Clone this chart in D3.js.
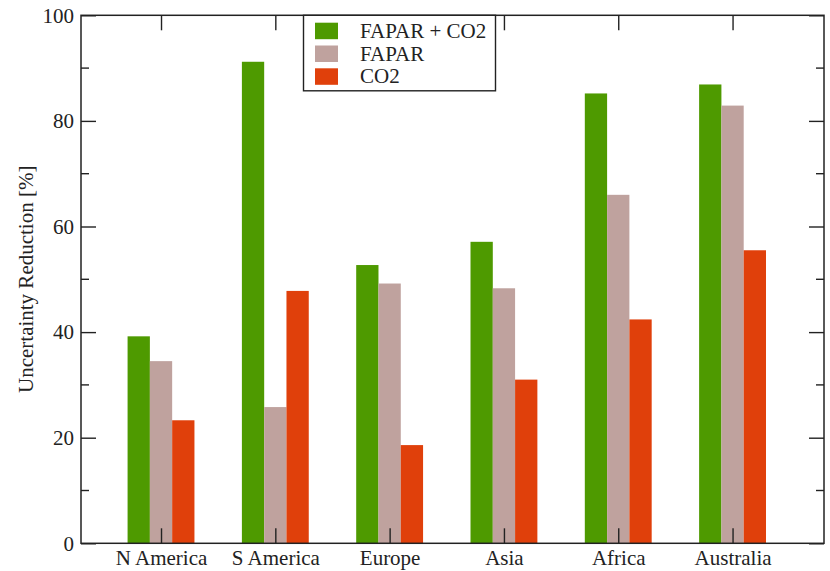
<!DOCTYPE html>
<html>
<head>
<meta charset="utf-8">
<script src="https://cdn.jsdelivr.net/npm/d3@7"></script>
<style>
  html, body { margin: 0; padding: 0; background: #fff; }
  svg { display: block; }
  svg text { font-family: "Liberation Serif", "DejaVu Serif", "Times New Roman", serif; fill: #222; }
</style>
</head>
<body>
<svg id="chart" width="830" height="571"></svg>
<script>
const categories = ["N America", "S America", "Europe", "Asia", "Africa", "Australia"];
const seriesNames = ["FAPAR + CO2", "FAPAR", "CO2"];
const seriesColors = ["#4e9a00", "#bfa29e", "#e0400b"];
const faparCo2 = [39.2, 91.2, 52.7, 57.1, 85.2, 86.9];
const fapar = [34.5, 25.8, 49.2, 48.3, 66.0, 82.9];
const co2 = [23.3, 47.8, 18.6, 31.0, 42.4, 55.5];
const yTicks = [0, 20, 40, 60, 80, 100];
const yMinorTicks = [10, 30, 50, 70, 90];
const yTitle = "Uncertainty Reduction [%]";

const series = [faparCo2, fapar, co2];
const FONT = '"Liberation Serif", "DejaVu Serif", "Times New Roman", serif';
const FS = 21;

const svg = d3.select("#chart");
const mLeft = 81, mRight = 824, mTop = 15.3, mBottom = 543.3;

const x = d3.scaleLinear().domain([0.3, 6.8]).range([mLeft, mRight]);
const y = d3.scaleLinear().domain([0, 100]).range([mBottom, mTop]);
const barW = 0.195;
const offsets = [-barW, 0, barW];

// bars
series.forEach((vals, si) => {
  svg.append("g").selectAll("rect")
    .data(vals)
    .join("rect")
    .attr("x", (d, i) => x(i + 1 + offsets[si] - barW / 2))
    .attr("width", (d, i) => x(i + 1 + offsets[si] + barW / 2) - x(i + 1 + offsets[si] - barW / 2))
    .attr("y", d => y(d))
    .attr("height", d => y(0) - y(d))
    .attr("fill", seriesColors[si]);
});

const axisColor = "#222";
const catPos = categories.map((c, i) => i + 1);

// left axis
const leftAxis = d3.axisLeft(y).tickValues(yTicks).tickSize(-15).tickPadding(7).tickFormat(d3.format("d"));
const gl = svg.append("g").attr("transform", `translate(${mLeft},0)`).call(leftAxis);
gl.append("g").selectAll("line").data(yMinorTicks).join("line")
  .attr("x1", 0).attr("x2", 8).attr("y1", d => y(d)).attr("y2", d => y(d));

// right axis
const rightAxis = d3.axisRight(y).tickValues(yTicks).tickSize(-15).tickFormat("");
const gr = svg.append("g").attr("transform", `translate(${mRight},0)`).call(rightAxis);
gr.append("g").selectAll("line").data(yMinorTicks).join("line")
  .attr("x1", 0).attr("x2", -8).attr("y1", d => y(d)).attr("y2", d => y(d));

// bottom axis
const bottomAxis = d3.axisBottom(x).tickValues(catPos).tickSize(-15).tickPadding(7)
  .tickFormat(d => categories[d - 1]);
const gb = svg.append("g").attr("transform", `translate(0,${mBottom})`).call(bottomAxis);

// top axis
const topAxis = d3.axisTop(x).tickValues(catPos).tickSize(-15).tickFormat("");
const gt = svg.append("g").attr("transform", `translate(0,${mTop})`).call(topAxis);

[gl, gr, gb, gt].forEach(g => {
  g.attr("font-family", FONT).attr("font-size", FS);
  g.select(".domain").remove();
  g.selectAll("line").attr("stroke", axisColor).attr("stroke-width", 1.4);
  g.selectAll("text").style("font-family", FONT).attr("font-size", FS).attr("fill", "#222");
});

// frame
svg.append("rect")
  .attr("x", mLeft).attr("y", mTop)
  .attr("width", mRight - mLeft).attr("height", mBottom - mTop)
  .attr("fill", "none").attr("stroke", axisColor).attr("stroke-width", 1.5);

// y title
svg.append("text")
  .attr("transform", `translate(33,${(mTop + mBottom) / 2}) rotate(-90)`)
  .attr("text-anchor", "middle")
  .style("font-family", FONT)
  .attr("font-size", FS)
  .text(yTitle);

// legend
const lg = svg.append("g");
lg.append("rect")
  .attr("x", 303.5).attr("y", mTop)
  .attr("width", 192).attr("height", 75.5)
  .attr("fill", "#fff").attr("stroke", axisColor).attr("stroke-width", 1.4);
seriesNames.forEach((name, i) => {
  const yy = 22.7 + i * 22.8;
  lg.append("rect").attr("x", 315).attr("y", yy).attr("width", 23).attr("height", 16.5)
    .attr("fill", seriesColors[i]);
  lg.append("text").attr("x", 360).attr("y", yy + 15).style("font-family", FONT).attr("font-size", FS).text(name);
});
</script>
</body>
</html>
